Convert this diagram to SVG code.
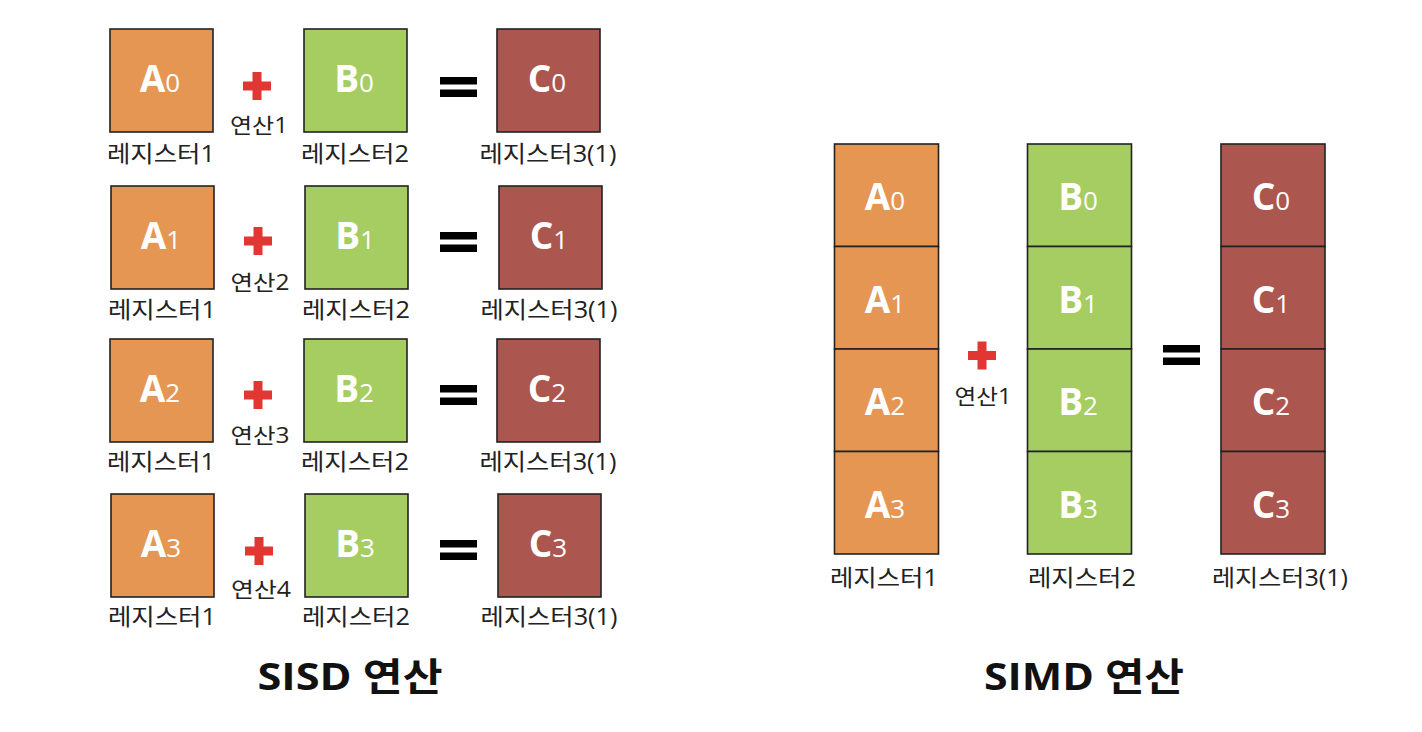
<svg xmlns="http://www.w3.org/2000/svg" xmlns:xlink="http://www.w3.org/1999/xlink" width="1422" height="732" viewBox="0 0 1422 732">
<style>
.ra{fill:#E49652;stroke:#222;stroke-width:1.6}
.rb{fill:#A5CD62;stroke:#222;stroke-width:1.6}
.rc{fill:#AB564E;stroke:#222;stroke-width:1.6}
.bt{font-family:"Open Sans","Noto Sans CJK KR",sans-serif;fill:#fff;text-anchor:middle}
.bt .m{font-size:37px;font-weight:700}
.bt .s{font-size:26px;font-weight:400}
.lb{font-family:"Open Sans","Noto Sans CJK KR",sans-serif;font-size:23px;fill:#222;text-anchor:middle}
.op{font-family:"Open Sans","Noto Sans CJK KR",sans-serif;font-size:21px;fill:#222;text-anchor:middle}
.tt{font-family:"Open Sans","Noto Sans CJK KR",sans-serif;font-size:38px;font-weight:700;fill:#111;text-anchor:middle}
.pl{fill:#E23632}
.eq{fill:#000}
</style>
<defs>
<path id="plus" class="pl" d="M-4.5,-14h9v9.5h9.5v9h-9.5v9.5h-9v-9.5h-9.5v-9h9.5z"/>
<g id="equals"><rect x="0" y="-10" width="37" height="7.5"/><rect x="0" y="2.5" width="37" height="7.5"/></g>
</defs>
<rect width="1422" height="732" fill="#fff"/>

<!-- SISD row 1 -->
<g id="sisd-a0"><rect class="ra" x="110" y="29" width="103" height="103"/><text class="bt" x="160" y="92"><tspan class="m">A</tspan><tspan class="s">0</tspan></text><text class="lb" x="161" y="162" textLength="108" lengthAdjust="spacingAndGlyphs">레지스터1</text></g>
<g id="sisd-op1"><use xlink:href="#plus" x="257" y="86"/><text class="op" x="259" y="133" textLength="58" lengthAdjust="spacingAndGlyphs">연산1</text></g>
<g id="sisd-b0"><rect class="rb" x="304" y="29" width="103" height="103"/><text class="bt" x="354" y="92"><tspan class="m">B</tspan><tspan class="s">0</tspan></text><text class="lb" x="355" y="162" textLength="108" lengthAdjust="spacingAndGlyphs">레지스터2</text></g>
<g id="sisd-eq1" class="eq"><use xlink:href="#equals" x="440" y="87"/></g>
<g id="sisd-c0"><rect class="rc" x="497" y="29" width="103" height="103"/><text class="bt" x="547" y="92"><tspan class="m">C</tspan><tspan class="s">0</tspan></text><text class="lb" x="548" y="162" textLength="137" lengthAdjust="spacingAndGlyphs">레지스터3(1)</text></g>

<!-- SISD row 2 -->
<g id="sisd-a1"><rect class="ra" x="111" y="186" width="103" height="103"/><text class="bt" x="161" y="249"><tspan class="m">A</tspan><tspan class="s">1</tspan></text><text class="lb" x="162" y="318" textLength="108" lengthAdjust="spacingAndGlyphs">레지스터1</text></g>
<g id="sisd-op2"><use xlink:href="#plus" x="258" y="241"/><text class="op" x="260" y="290" textLength="59" lengthAdjust="spacingAndGlyphs">연산2</text></g>
<g id="sisd-b1"><rect class="rb" x="305" y="186" width="103" height="103"/><text class="bt" x="355" y="249"><tspan class="m">B</tspan><tspan class="s">1</tspan></text><text class="lb" x="356" y="318" textLength="108" lengthAdjust="spacingAndGlyphs">레지스터2</text></g>
<g id="sisd-eq2" class="eq"><use xlink:href="#equals" x="440" y="242"/></g>
<g id="sisd-c1"><rect class="rc" x="499" y="186" width="103" height="103"/><text class="bt" x="549" y="249"><tspan class="m">C</tspan><tspan class="s">1</tspan></text><text class="lb" x="549" y="318" textLength="137" lengthAdjust="spacingAndGlyphs">레지스터3(1)</text></g>

<!-- SISD row 3 -->
<g id="sisd-a2"><rect class="ra" x="110" y="339" width="103" height="103"/><text class="bt" x="160" y="402"><tspan class="m">A</tspan><tspan class="s">2</tspan></text><text class="lb" x="161" y="470" textLength="108" lengthAdjust="spacingAndGlyphs">레지스터1</text></g>
<g id="sisd-op3"><use xlink:href="#plus" x="258" y="395"/><text class="op" x="260" y="443" textLength="59" lengthAdjust="spacingAndGlyphs">연산3</text></g>
<g id="sisd-b2"><rect class="rb" x="304" y="339" width="103" height="103"/><text class="bt" x="354" y="402"><tspan class="m">B</tspan><tspan class="s">2</tspan></text><text class="lb" x="355" y="470" textLength="108" lengthAdjust="spacingAndGlyphs">레지스터2</text></g>
<g id="sisd-eq3" class="eq"><use xlink:href="#equals" x="440" y="395"/></g>
<g id="sisd-c2"><rect class="rc" x="497" y="339" width="103" height="103"/><text class="bt" x="547" y="402"><tspan class="m">C</tspan><tspan class="s">2</tspan></text><text class="lb" x="548" y="470" textLength="137" lengthAdjust="spacingAndGlyphs">레지스터3(1)</text></g>

<!-- SISD row 4 -->
<g id="sisd-a3"><rect class="ra" x="111" y="494" width="103" height="103"/><text class="bt" x="161" y="557"><tspan class="m">A</tspan><tspan class="s">3</tspan></text><text class="lb" x="162" y="625" textLength="108" lengthAdjust="spacingAndGlyphs">레지스터1</text></g>
<g id="sisd-op4"><use xlink:href="#plus" x="259" y="551"/><text class="op" x="261" y="597" textLength="60" lengthAdjust="spacingAndGlyphs">연산4</text></g>
<g id="sisd-b3"><rect class="rb" x="305" y="494" width="103" height="103"/><text class="bt" x="355" y="557"><tspan class="m">B</tspan><tspan class="s">3</tspan></text><text class="lb" x="356" y="625" textLength="108" lengthAdjust="spacingAndGlyphs">레지스터2</text></g>
<g id="sisd-eq4" class="eq"><use xlink:href="#equals" x="440" y="550"/></g>
<g id="sisd-c3"><rect class="rc" x="498" y="494" width="103" height="103"/><text class="bt" x="548" y="557"><tspan class="m">C</tspan><tspan class="s">3</tspan></text><text class="lb" x="549" y="625" textLength="137" lengthAdjust="spacingAndGlyphs">레지스터3(1)</text></g>

<g id="sisd-title"><text class="tt" x="350" y="690" textLength="185" lengthAdjust="spacingAndGlyphs">SISD 연산</text></g>

<!-- SIMD -->
<g id="simd-a">
<rect class="ra" x="834.5" y="144" width="104" height="102.5"/>
<rect class="ra" x="834.5" y="246.5" width="104" height="102.5"/>
<rect class="ra" x="834.5" y="349" width="104" height="102.5"/>
<rect class="ra" x="834.5" y="451.5" width="104" height="102.5"/>
<text class="bt" x="885" y="210"><tspan class="m">A</tspan><tspan class="s">0</tspan></text>
<text class="bt" x="885" y="312.5"><tspan class="m">A</tspan><tspan class="s">1</tspan></text>
<text class="bt" x="885" y="415"><tspan class="m">A</tspan><tspan class="s">2</tspan></text>
<text class="bt" x="885" y="517.5"><tspan class="m">A</tspan><tspan class="s">3</tspan></text>
<text class="lb" x="884" y="586" textLength="108" lengthAdjust="spacingAndGlyphs">레지스터1</text>
</g>
<g id="simd-op"><use xlink:href="#plus" x="982" y="355.5"/><text class="op" x="983" y="404" textLength="57" lengthAdjust="spacingAndGlyphs">연산1</text></g>
<g id="simd-b">
<rect class="rb" x="1027.5" y="144" width="104" height="102.5"/>
<rect class="rb" x="1027.5" y="246.5" width="104" height="102.5"/>
<rect class="rb" x="1027.5" y="349" width="104" height="102.5"/>
<rect class="rb" x="1027.5" y="451.5" width="104" height="102.5"/>
<text class="bt" x="1078" y="210"><tspan class="m">B</tspan><tspan class="s">0</tspan></text>
<text class="bt" x="1078" y="312.5"><tspan class="m">B</tspan><tspan class="s">1</tspan></text>
<text class="bt" x="1078" y="415"><tspan class="m">B</tspan><tspan class="s">2</tspan></text>
<text class="bt" x="1078" y="517.5"><tspan class="m">B</tspan><tspan class="s">3</tspan></text>
<text class="lb" x="1082" y="586" textLength="108" lengthAdjust="spacingAndGlyphs">레지스터2</text>
</g>
<g id="simd-eq" class="eq"><use xlink:href="#equals" x="1163" y="355"/></g>
<g id="simd-c">
<rect class="rc" x="1221" y="144" width="104" height="102.5"/>
<rect class="rc" x="1221" y="246.5" width="104" height="102.5"/>
<rect class="rc" x="1221" y="349" width="104" height="102.5"/>
<rect class="rc" x="1221" y="451.5" width="104" height="102.5"/>
<text class="bt" x="1271" y="210"><tspan class="m">C</tspan><tspan class="s">0</tspan></text>
<text class="bt" x="1271" y="312.5"><tspan class="m">C</tspan><tspan class="s">1</tspan></text>
<text class="bt" x="1271" y="415"><tspan class="m">C</tspan><tspan class="s">2</tspan></text>
<text class="bt" x="1271" y="517.5"><tspan class="m">C</tspan><tspan class="s">3</tspan></text>
<text class="lb" x="1280" y="586" textLength="136" lengthAdjust="spacingAndGlyphs">레지스터3(1)</text>
</g>
<g id="simd-title"><text class="tt" x="1084" y="690" textLength="200" lengthAdjust="spacingAndGlyphs">SIMD 연산</text></g>
<g id="connectors"/>
</svg>
